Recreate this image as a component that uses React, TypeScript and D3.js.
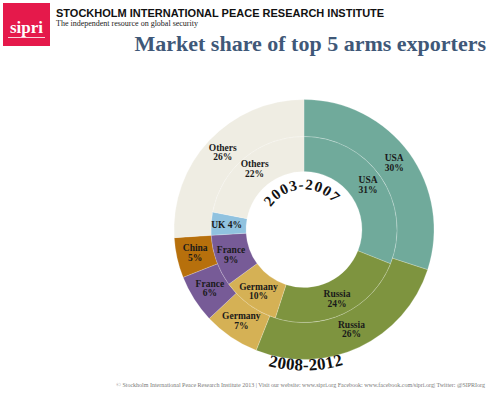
import React from "react";
import * as d3 from "d3";

const outerCats = ["USA", "Russia", "Germany", "France", "China", "Others"];
const outerVals = [30, 26, 7, 6, 5, 26];
const innerCats = ["USA", "Russia", "Germany", "France", "UK", "Others"];
const innerVals = [31, 24, 10, 9, 4, 22];
const outerPeriod = "2008-2012";
const innerPeriod = "2003-2007";

const colors: Record<string, string> = {
  USA: "#70aa9b",
  Russia: "#7e943f",
  Germany: "#d5b155",
  France: "#775b97",
  China: "#b7700c",
  UK: "#90c2df",
  Others: "#efede3",
};

const W = 500;
const H = 395;
const cx = 304;
const cy = 229.5;
const rHole = 58;
const rMid = 93;
const rOut = 130;

const labelFont = "'Liberation Serif', 'DejaVu Serif', serif";

function Ring({ cats, vals, r0, r1, shift }: { cats: string[]; vals: number[]; r0: number; r1: number; shift: number }) {
  const pie = d3.pie<number>().sort(null).value((d) => d)(vals);
  const arc = d3.arc<d3.PieArcDatum<number>>().innerRadius(r0).outerRadius(r1);
  const labelArc = d3.arc<d3.PieArcDatum<number>>().innerRadius(r0 + shift).outerRadius(r1 + shift);
  return (
    <g>
      {pie.map((p, i) => (
        <path key={"p" + i} d={arc(p) || ""} fill={colors[cats[i]]} stroke="#ffffff" strokeOpacity={0.35} strokeWidth={0.6} />
      ))}
      {pie.map((p, i) => {
        const [x, y] = labelArc.centroid(p);
        const single = cats[i] === "UK";
        return single ? (
          <text key={"t" + i} x={x} y={y + 3} textAnchor="middle" fontFamily={labelFont} fontWeight="bold" fontSize={9.5} fill="#1a1a1a">
            {cats[i]} {vals[i]}%
          </text>
        ) : (
          <text key={"t" + i} x={x} y={y - 2.5} textAnchor="middle" fontFamily={labelFont} fontWeight="bold" fontSize={9.5} fill="#1a1a1a">
            <tspan x={x}>{cats[i]}</tspan>
            <tspan x={x} dy={9.5}>{vals[i]}%</tspan>
          </text>
        );
      })}
    </g>
  );
}

export default function App() {
  const rTop = 40;
  const rBot = 141;
  const aTop = (80 * Math.PI) / 180;
  const aBot = (40 * Math.PI) / 180;
  const topPath = `M ${-rTop * Math.sin(aTop)} ${-rTop * Math.cos(aTop)} A ${rTop} ${rTop} 0 0 1 ${rTop * Math.sin(aTop)} ${-rTop * Math.cos(aTop)}`;
  const botPath = `M ${-rBot * Math.sin(aBot)} ${rBot * Math.cos(aBot)} A ${rBot} ${rBot} 0 0 0 ${rBot * Math.sin(aBot)} ${rBot * Math.cos(aBot)}`;

  return (
    <svg width={W} height={H} viewBox={`0 0 ${W} ${H}`} style={{ position: "absolute", left: 0, top: 0, background: "#ffffff" }}>
      <rect x={0} y={0} width={W} height={H} fill="#ffffff" />
      {/* logo */}
      <rect x={3} y={3} width={47} height={43} fill="#e5194b" />
      <text x={26.5} y={33} textAnchor="middle" fontFamily={labelFont} fontWeight="bold" fontSize={17} fill="#ffffff">
        sipri
      </text>
      <line x1={8} x2={45} y1={37.5} y2={37.5} stroke="#ffffff" strokeWidth={0.8} />
      <text x={56} y={17} fontFamily="'Liberation Sans', Arial, sans-serif" fontWeight="bold" fontSize={11} fill="#111">
        STOCKHOLM INTERNATIONAL PEACE RESEARCH INSTITUTE
      </text>
      <text x={56} y={25.5} fontFamily={labelFont} fontSize={8} fill="#222">
        The independent resource on global security
      </text>
      <text x={486} y={51} textAnchor="end" fontFamily={labelFont} fontWeight="bold" fontSize={22} fill="#3f5878">
        Market share of top 5 arms exporters
      </text>

      <g transform={`translate(${cx},${cy})`}>
        <Ring cats={outerCats} vals={outerVals} r0={rMid} r1={rOut} shift={0} />
        <Ring cats={innerCats} vals={innerVals} r0={rHole} r1={rMid} shift={2} />
        <defs>
          <path id="topArc" d={topPath} />
          <path id="botArc" d={botPath} />
        </defs>
        <text fontFamily={labelFont} fontWeight="bold" fontSize={15} fill="#111" letterSpacing={1}>
          <textPath href="#topArc" startOffset="48%" textAnchor="middle">
            {innerPeriod}
          </textPath>
        </text>
        <text fontFamily={labelFont} fontWeight="bold" fontSize={17} fill="#111" letterSpacing={0.3}>
          <textPath href="#botArc" startOffset="51%" textAnchor="middle">
            {outerPeriod}
          </textPath>
        </text>
      </g>

      <text x={485} y={387} textAnchor="end" fontFamily={labelFont} fontSize={6} fill="#7a7a7a">
        © Stockholm International Peace Research Institute 2013 | Visit our website: www.sipri.org Facebook: www.facebook.com/sipri.org| Twitter: @SIPRIorg
      </text>
    </svg>
  );
}
